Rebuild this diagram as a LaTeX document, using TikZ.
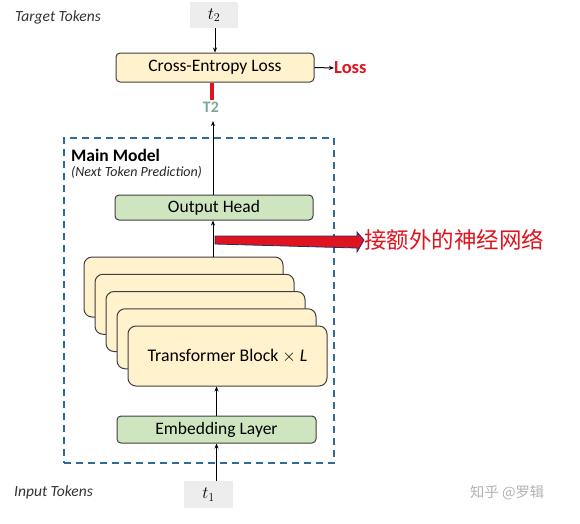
\documentclass[tikz,border=0pt]{standalone}
\usepackage{fontspec}
\setmainfont{Carlito}
\newfontfamily\cjk{Noto Sans CJK SC}
\usetikzlibrary{arrows.meta,calc}
\definecolor{ylw}{HTML}{FFF2CC}
\definecolor{grn}{HTML}{CFE5C0}
\definecolor{bord}{HTML}{3F3F3F}
\definecolor{dbl}{HTML}{2F6B9A}
\definecolor{tokg}{HTML}{EDEDED}
\definecolor{tealt}{HTML}{7AA898}
\definecolor{redc}{HTML}{E0141E}
\definecolor{navy}{HTML}{1F2F6F}
\tikzset{
  box/.style={draw=bord, line width=1pt, rounded corners=4pt, inner sep=0pt, font=\fontsize{17.5}{20}\selectfont},
  ybox/.style={box, fill=ylw},
  gbox/.style={box, fill=grn},
  tblock/.style={draw=bord, line width=1pt, rounded corners=8pt, fill=ylw, minimum width=199pt, minimum height=60pt, inner sep=0pt, font=\fontsize{17.8}{20}\selectfont},
  tok/.style={fill=tokg, inner sep=0pt, font=\fontsize{17}{19}\selectfont},
  lbl/.style={font=\fontsize{15.5}{17}\selectfont\itshape, text=black!80, anchor=west, inner sep=0pt},
  conn/.style={line width=1pt, -{Stealth[length=5pt,width=4pt]}},
}
\begin{document}
\begin{tikzpicture}[x=1pt,y=-1pt]
\useasboundingbox (0,0) rectangle (580,523);
% labels
\node[lbl] (tt) at (15,17) {Target Tokens};
\node[lbl] (it) at (14,492) {Input Tokens};
% tokens
\node[tok, minimum width=48pt, minimum height=26pt] (t2) at (214,15) {$t_2$};
\node[tok, minimum width=49pt, minimum height=27pt] (t1) at (208.5,494.5) {$t_1$};
% cross entropy
\node[ybox, minimum width=198pt, minimum height=29pt] (ce) at (215,67.5) {Cross-Entropy Loss};
\node[anchor=west, inner sep=0pt, text=redc, font=\fontsize{18.5}{20}\selectfont\bfseries] (loss) at (334,68) {Loss};
\draw[conn] (ce.east) -- (loss.west);
\draw[conn] (t2.south -| ce.north) -- (ce.north);
% red mark and T2
\coordinate (rm) at (212,100);
\draw[redc, line width=3.5pt] (ce.south -| rm) -- (rm);
\node[inner sep=0pt, text=tealt, font=\fontsize{16}{18}\selectfont\bfseries] (T2) at (211,107) {T2};
% main model box
\node[draw=dbl, dashed, dash pattern=on 7pt off 5pt, line width=1.5pt, minimum width=270pt, minimum height=325pt, inner sep=0pt] (main) at (199,300.5) {};
\node[anchor=west, inner sep=0pt, font=\fontsize{17.5}{20}\selectfont\bfseries] (mm) at (71,155) {Main Model};
\node[anchor=west, inner sep=0pt, font=\fontsize{14}{16}\selectfont\itshape, text=black!85] (ntp) at (71,172) {(Next Token Prediction)};
% output head
\node[gbox, minimum width=198pt, minimum height=25pt] (oh) at (214,207.5) {Output Head};
\coordinate (ohtop) at (213,121);
\draw[conn] (oh.north -| ohtop) -- (ohtop);
% transformer blocks
\node[tblock] (b1) at (183.5,287) {};
\node[tblock] (b2) at (194.5,304.25) {};
\node[tblock] (b3) at (205.5,321.5) {};
\node[tblock] (b4) at (216.5,338.75) {};
\node[tblock] (b5) at (227.5,356) {Transformer Block $\times$ \textit{L}};
\draw[conn] (b1.north -| ohtop) -- (oh.south -| ohtop);
% embedding
\node[gbox, minimum width=199pt, minimum height=27pt] (emb) at (216.5,429.5) {Embedding Layer};
\draw[conn] (emb.north) -- (emb.north |- b5.south);
\draw[conn] (emb.south |- t1.north) -- (emb.south);
% red big arrow
\coordinate (ra) at (215,240);
\node[anchor=west, inner sep=0pt, text=redc, font=\fontsize{22.5}{24}\selectfont\cjk] (cn) at (364,240) {接额外的神经网络};
\draw[draw=navy, fill=redc, line width=0.8pt]
  ($(ra)+(0,-4)$) -- ++(142,0) -- ++(0,-4) -- (cn.west) -- ($(ra)+(142,12)$) -- ++(0,-4) -- ($(ra)+(0,4)$) -- cycle;
% watermark
\node[anchor=west, inner sep=0pt, text=black!30, font=\fontsize{14.3}{16}\selectfont\cjk] (wm) at (470,493) {知乎 @罗辑};
\end{tikzpicture}
\end{document}
